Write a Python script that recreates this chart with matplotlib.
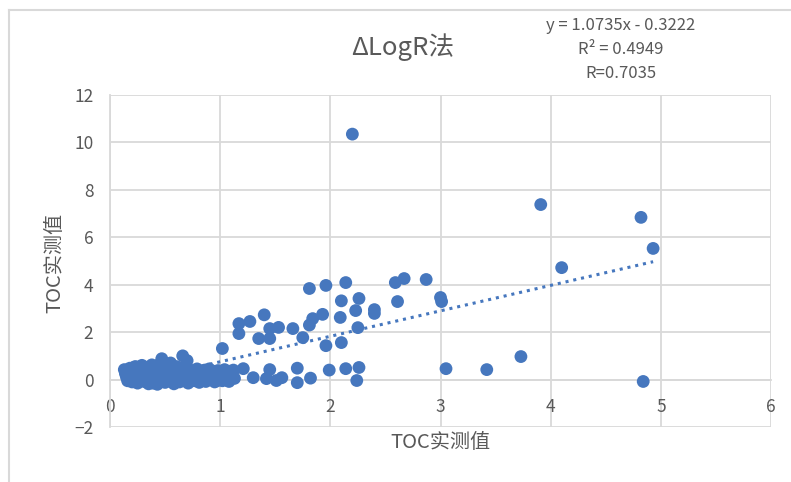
import matplotlib
matplotlib.use("Agg")
import matplotlib.pyplot as plt
from matplotlib.lines import Line2D
import numpy as np

plt.rcParams['font.family'] = ['Noto Sans CJK SC', 'DejaVu Sans']

# ---- data ----
cluster_x = [0.13, 0.15, 0.16, 0.17, 0.18, 0.19, 0.20, 0.21, 0.22, 0.23, 0.24, 0.25, 0.26, 0.27, 0.28, 0.29,
             0.30, 0.31, 0.32, 0.33, 0.34, 0.35,
             0.36, 0.37, 0.38, 0.39, 0.40, 0.41, 0.42, 0.43, 0.44, 0.45, 0.46, 0.47, 0.48, 0.49, 0.50,
             0.51, 0.52, 0.53, 0.54, 0.55, 0.56, 0.57, 0.58, 0.59, 0.60,
             0.61, 0.62, 0.63, 0.64, 0.66, 0.67, 0.68, 0.69, 0.70, 0.71, 0.72, 0.73, 0.74, 0.75, 0.77,
             0.78, 0.80, 0.81, 0.83, 0.84,
             0.86, 0.87, 0.89, 0.90, 0.92, 0.93, 0.95, 0.96, 0.98, 0.99, 1.01, 1.02, 1.04, 1.05, 1.07,
             1.08, 1.10, 1.12, 1.13,
             0.14, 0.18, 0.21, 0.24, 0.27, 0.30, 0.33, 0.36, 0.39, 0.42, 0.45, 0.48, 0.51, 0.54, 0.57,
             0.60, 0.63, 0.66, 0.69, 0.72, 0.76, 0.79, 0.82, 0.85, 0.88, 0.91, 0.94, 0.97, 1.00, 1.03,
             1.06, 1.09, 1.11]
cluster_y = [0.42, 0.10, -0.05, 0.30, 0.48, 0.20, -0.10, 0.05, 0.38, 0.55, 0.15, -0.15, 0.28, 0.00, 0.45, 0.60,
             0.10, -0.08, 0.35, 0.22, 0.52, -0.18,
             0.05, 0.40, 0.62, 0.18, -0.05, 0.30, 0.50, -0.20, 0.12, 0.65, 0.25, 0.88, 0.02, 0.42, -0.12,
             0.58, 0.20, 0.35, -0.02, 0.70, 0.10, 0.48, -0.18, 0.30, 0.55,
             0.05, 0.38, -0.10, 0.20, 1.00, 0.45, 0.00, 0.28, 0.80, -0.15, 0.15, 0.40, 0.05, 0.25, -0.05,
             0.35, 0.12, -0.12, 0.30, 0.05,
             0.40, -0.08, 0.20, 0.45, 0.00, 0.30, -0.10, 0.15, 0.38, 0.05, 0.25, -0.05, 0.42, 0.10, 0.30,
             -0.08, 0.18, 0.40, 0.05,
             0.25, 0.00, 0.50, -0.05, 0.18, 0.42, 0.00, 0.28, -0.15, 0.08, 0.35, 0.20, 0.10, 0.45, -0.08,
             0.22, 0.50, -0.05, 0.55, 0.30, 0.15, 0.45, 0.25, -0.02, 0.10, 0.28, 0.35, -0.05, 0.10, 0.20,
             -0.02, 0.35, 0.25]

other_x = [1.02, 1.17, 1.17, 1.27, 1.35, 1.40, 1.45, 1.45, 1.53, 1.21, 1.30, 1.42, 1.45, 1.51, 1.56,
           1.66, 1.75, 1.81, 1.84, 1.81, 1.93, 1.96, 1.96, 2.09, 2.10, 2.10, 2.14, 2.23, 2.25, 2.26,
           2.40, 2.40, 2.59, 2.61, 2.67, 2.87, 3.00, 3.01, 1.70, 1.70, 1.82, 1.99, 2.14, 2.26, 2.24,
           3.05, 3.42, 3.73, 4.10, 4.84, 3.91, 4.82, 4.93, 2.20]
other_y = [1.31, 2.36, 1.94, 2.45, 1.73, 2.73, 1.73, 2.15, 2.20, 0.46, 0.08, 0.04, 0.42, -0.04, 0.08,
           2.15, 1.77, 2.30, 2.57, 3.84, 2.75, 3.97, 1.43, 2.62, 1.56, 3.32, 4.09, 2.91, 2.19, 3.42,
           2.95, 2.79, 4.09, 3.29, 4.26, 4.22, 3.46, 3.29, 0.48, -0.13, 0.06, 0.40, 0.46, 0.51, -0.04,
           0.46, 0.42, 0.97, 4.72, -0.08, 7.38, 6.84, 5.53, 10.35]

toc_measured = cluster_x + other_x
toc_dlogr = cluster_y + other_y

slope = 1.0735
intercept = -0.3222
r_squared = 0.4949
r_value = 0.7035

title_text = "ΔLogR法"
x_label = "TOC实测值"
y_label = "TOC实测值"
x_ticks = [0, 1, 2, 3, 4, 5, 6]
y_ticks = [-2, 0, 2, 4, 6, 8, 10, 12]

# ---- styling ----
blue = "#4677BE"
grid_c = "#D9D9D9"
text_c = "#595959"

fig = plt.figure(figsize=(7.91, 4.82), dpi=100)
fig.patch.set_facecolor("white")

# outer chart frame (partially visible)
fig.add_artist(Line2D([9/791, 9/791], [0, 1 - 10/482], transform=fig.transFigure,
                      color=grid_c, lw=1.5))
fig.add_artist(Line2D([9/791, 1], [1 - 10/482, 1 - 10/482], transform=fig.transFigure,
                      color=grid_c, lw=1.5))

ax = fig.add_axes([110/791, 1 - 427/482, 661/791, 332/482])
ax.set_xlim(0, 6)
ax.set_ylim(-2, 12)
ax.set_xticks(x_ticks)
ax.set_yticks(y_ticks)
ax.grid(True, color=grid_c, lw=1.3)
ax.set_axisbelow(True)
for s in ['top', 'right']:
    ax.spines[s].set_visible(False)
ax.spines['left'].set_color(grid_c)
ax.spines['left'].set_linewidth(1.3)
ax.spines['bottom'].set_color(grid_c)
ax.spines['bottom'].set_linewidth(1.3)
ax.spines['bottom'].set_position(('data', 0))
ax.tick_params(axis='both', length=0, colors=text_c, labelsize=12.5)
ax.tick_params(axis='x', pad=13)
ax.tick_params(axis='y', pad=12)

ax.scatter(toc_measured, toc_dlogr, s=85, color=blue, edgecolors='none', zorder=3)

xs = np.array([min(toc_measured), max(toc_measured)])
ax.plot(xs, slope * xs + intercept, linestyle=(0, (1, 1.6)), color=blue, lw=2.2, zorder=4)

fig.text(440/791, 1 - 443/482, x_label, ha='center', va='center',
         fontsize=14.5, color=text_c)
fig.text(55/791, 1 - 263/482, y_label, ha='center', va='center', rotation=90,
         fontsize=14.5, color=text_c)
fig.text(403/791, 1 - 47/482, title_text, ha='center', va='center', fontsize=18.5, color=text_c)

eq_lines = [f"y = {slope:.4f}x - {abs(intercept):.4f}",
            f"R² = {r_squared:.4f}",
            f"R={r_value:.4f}"]
for i, line in enumerate(eq_lines):
    fig.text(621/791, 1 - (25 + 24 * i)/482, line, ha='center', va='center',
             fontsize=12, color=text_c)

fig.savefig("out.png", dpi=100, facecolor="white")
